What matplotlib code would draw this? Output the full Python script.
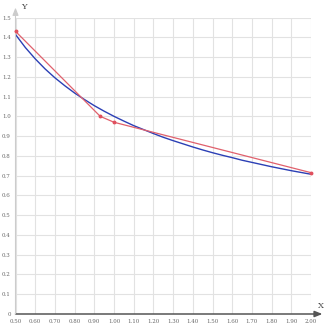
import matplotlib
matplotlib.use("Agg")
import matplotlib.pyplot as plt

# Blue curve samples
curve_x = [0.50, 0.55, 0.60, 0.65, 0.70, 0.75, 0.80, 0.85, 0.90, 0.95, 1.00,
           1.05, 1.10, 1.15, 1.20, 1.25, 1.30, 1.35, 1.40, 1.45, 1.50,
           1.55, 1.60, 1.65, 1.70, 1.75, 1.80, 1.85, 1.90, 1.95, 2.00]
curve_y = [1.414, 1.348, 1.291, 1.240, 1.195, 1.155, 1.118, 1.085, 1.054, 1.026, 1.000,
           0.976, 0.953, 0.933, 0.913, 0.894, 0.877, 0.861, 0.845, 0.830, 0.816,
           0.803, 0.791, 0.778, 0.767, 0.756, 0.745, 0.735, 0.725, 0.716, 0.707]

# Red polyline points
pts_x = [0.50, 0.93, 1.00, 2.00]
pts_y = [1.43, 1.00, 0.97, 0.715]

xticks = [0.5, 0.6, 0.7, 0.8, 0.9, 1.0, 1.1, 1.2, 1.3, 1.4, 1.5, 1.6, 1.7, 1.8, 1.9, 2.0]
xtick_labels = ["0.50", "0.60", "0.70", "0.80", "0.90", "1.00", "1.10", "1.20", "1.30",
                "1.40", "1.50", "1.60", "1.70", "1.80", "1.90", "2.00"]
yticks = [0, 0.1, 0.2, 0.3, 0.4, 0.5, 0.6, 0.7, 0.8, 0.9, 1.0, 1.1, 1.2, 1.3, 1.4, 1.5]
ytick_labels = ["0", "0.1", "0.2", "0.3", "0.4", "0.5", "0.6", "0.7", "0.8", "0.9",
                "1.0", "1.1", "1.2", "1.3", "1.4", "1.5"]

W, H = 330, 328
fig = plt.figure(figsize=(W / 100, H / 100), dpi=100)
ax = fig.add_axes([15.5 / W, (H - 314) / H, 295.5 / W, 296.5 / H])
ax.set_xlim(0.5, 2.0)
ax.set_ylim(0, 1.5)

ax.set_xticks(xticks)
ax.set_xticklabels(xtick_labels)
ax.set_yticks(yticks)
ax.set_yticklabels(ytick_labels)
ax.tick_params(axis="both", length=0, labelsize=4.0, colors="#666666", pad=3.5)
for lab in ax.get_xticklabels() + ax.get_yticklabels():
    lab.set_family("DejaVu Serif")
ax.grid(True, color="#e2e2e2", linewidth=0.8)
ax.set_axisbelow(True)

for s in ["top", "right", "left", "bottom"]:
    ax.spines[s].set_visible(False)

ax.plot(curve_x, curve_y, color="#2b3fb5", linewidth=1.0, zorder=3)
ax.plot(pts_x, pts_y, color="#e0606c", linewidth=0.9, marker="o", markersize=1.8,
        markerfacecolor="#e0505e", markeredgecolor="#e0505e", zorder=4, clip_on=False)

# x axis with arrow
ax.annotate("", xy=(2.058, 0), xytext=(0.5, 0), xycoords="data",
            arrowprops=dict(arrowstyle="-|>,head_length=0.45,head_width=0.18",
                            color="#555555", lw=1.1, shrinkA=0, shrinkB=0),
            annotation_clip=False)
# y axis with light arrow
ax.annotate("", xy=(0.5, 1.55), xytext=(0.5, 0), xycoords="data",
            arrowprops=dict(arrowstyle="-|>,head_length=0.45,head_width=0.18",
                            color="#cccccc", lw=0.8, shrinkA=0, shrinkB=0),
            annotation_clip=False)

fig.text(24 / W, 1 - 7 / H, "Y", fontsize=6, family="DejaVu Serif", color="#444444",
         ha="center", va="center")
fig.text(321 / W, 1 - 306 / H, "X", fontsize=6, family="DejaVu Serif", color="#444444",
         ha="center", va="center")

fig.savefig("out.png", dpi=100, facecolor="white")
